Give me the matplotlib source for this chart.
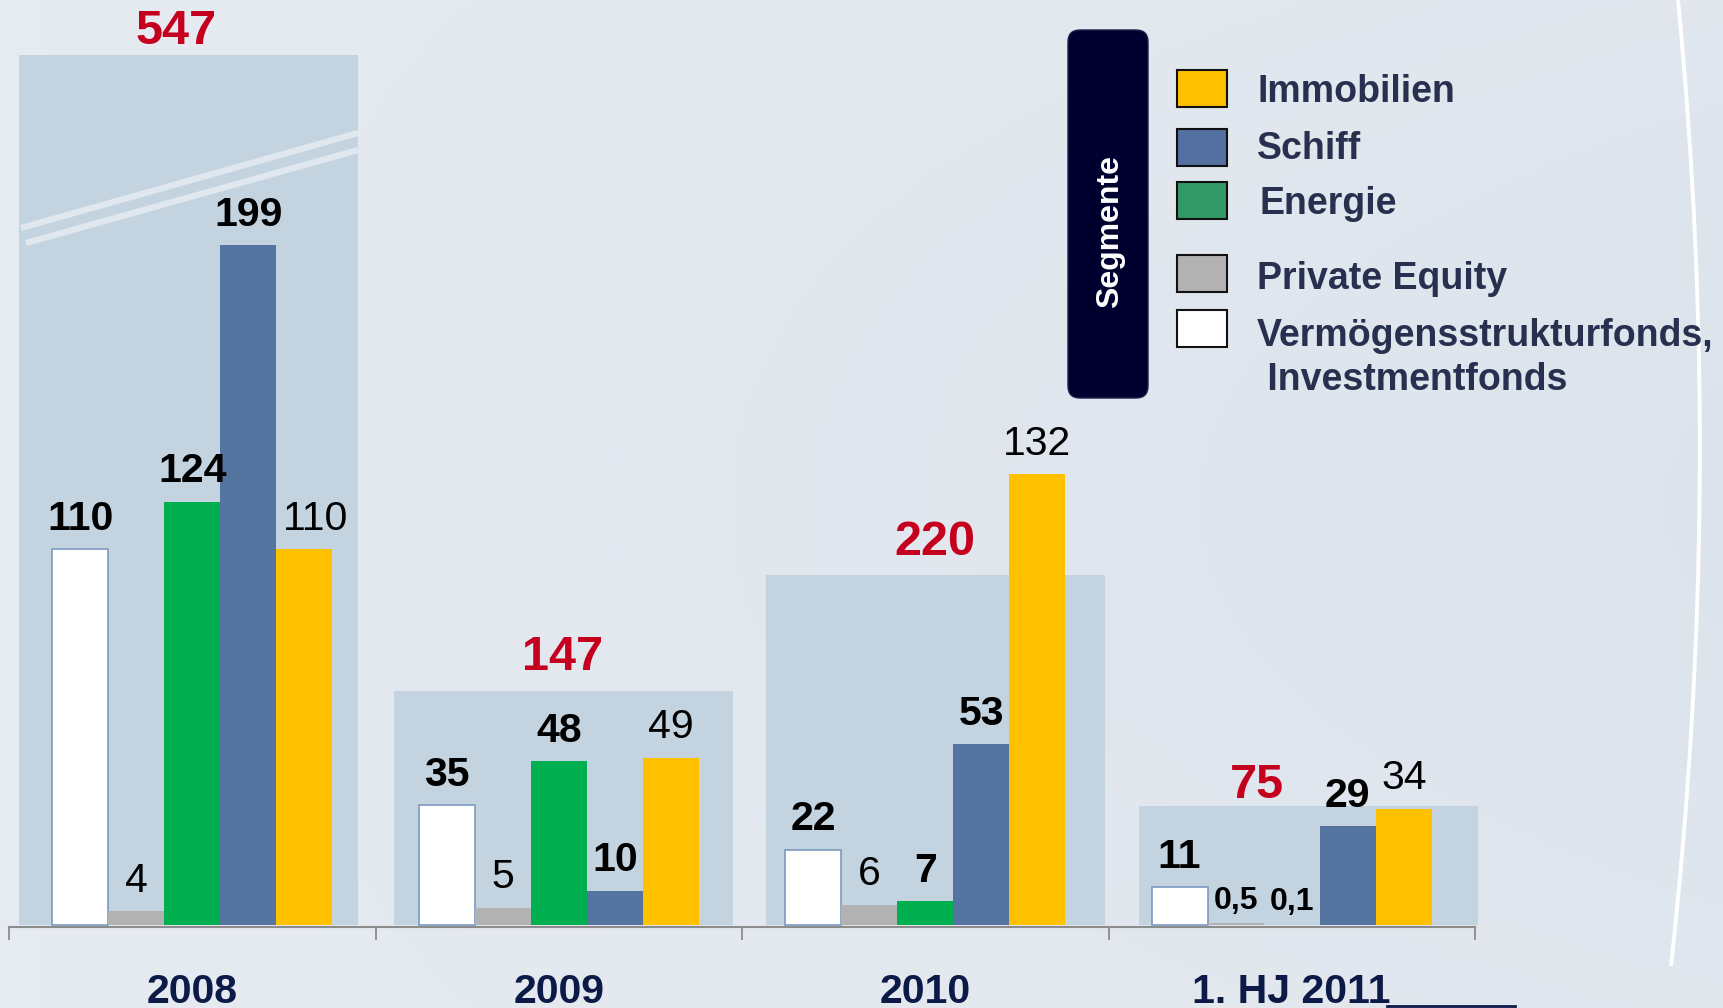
import numpy as np
import matplotlib.pyplot as plt
from matplotlib.patches import Rectangle, FancyBboxPatch, PathPatch
from matplotlib.path import Path

plt.rcParams['font.family'] = ['Liberation Sans', 'DejaVu Sans']

# Daten (Platzierungsvolumen je Segment)
jahre = ['2008', '2009', '2010', '1. HJ 2011']
summe = [547, 147, 220, 75]
summe_text = ['547', '147', '220', '75']

vsf = [110, 35, 22, 11]          # Vermögensstrukturfonds, Investmentfonds
pe = [4, 5, 6, 0.5]              # Private Equity
energie = [124, 48, 7, 0.1]
schiff = [199, 10, 53, 29]
immo = [110, 49, 132, 34]

vsf_text = ['110', '35', '22', '11']
pe_text = ['4', '5', '6', '0,5']
energie_text = ['124', '48', '7', '0,1']
schiff_text = ['199', '10', '53', '29']
immo_text = ['110', '49', '132', '34']

legende_namen = ['Immobilien', 'Schiff', 'Energie', 'Private Equity',
                 'Vermögensstrukturfonds,\n Investmentfonds']

# Farben
c_bg_box = '#c3d3df'
c_rot = '#c5001f'
c_navy = '#0c1a48'
c_leg = '#283050'

W, H = 1723, 1008
fig = plt.figure(figsize=(W / 100, H / 100), dpi=100)

# Hintergrund mit leichtem Verlauf
bg = fig.add_axes([0, 0, 1, 1], zorder=0)
yy, xx = np.mgrid[0:1:200j, 0:1:340j]
hell = np.array([0.902, 0.922, 0.945])
dunkel = np.array([0.860, 0.886, 0.918])
mix = np.clip(0.45 * xx + 0.35 * np.sin(np.pi * yy) * xx, 0, 1)[..., None]
bg.imshow(hell * (1 - mix) + dunkel * mix, aspect='auto', extent=[0, 1, 0, 1])
bg.axis('off')

# Hauptachse: 1 Einheit x = 366.5 px, 1 Einheit y = 3.415 px
ax = fig.add_axes([0, 0, 1, 1], zorder=1)
ax.patch.set_alpha(0)
sx, sy = 366.5, 3.415
ax.set_xlim(-0.5 - 9 / sx, -0.5 + (W - 9) / sx)
ax.set_ylim(-(H - 925) / sy, 925 / sy)

x = np.arange(len(jahre))
bw = 0.153

# Hintergrundkästen (Gesamtvolumen, gestaucht)
box_dx = np.array([-0.011, 0.012, 0.027, 0.046])
ax.bar(x + box_dx, np.array(summe) * 0.466, width=0.925, color=c_bg_box, zorder=1)

serien = [
    (vsf, vsf_text, 'white', '#7d99bf', 1.2, ['bold'] * 4),
    (pe, pe_text, '#b2b2b2', 'none', 0, ['normal', 'normal', 'normal', 'bold']),
    (energie, energie_text, '#00b050', 'none', 0, ['bold'] * 4),
    (schiff, schiff_text, '#5574a0', 'none', 0, ['bold'] * 4),
    (immo, immo_text, '#ffc000', 'none', 0, ['normal'] * 4),
]

for k, (werte, texte, farbe, rand, lw, gewicht) in enumerate(serien):
    pos = x + (k - 2) * bw
    ax.bar(pos, werte, width=bw, color=farbe, edgecolor=rand, linewidth=lw, zorder=3)
    for i in range(len(werte)):
        klein = texte[i] in ('0,5', '0,1')
        dx = 8 if (k == 4 and i == 0) else 0
        ax.annotate(texte[i], (pos[i], werte[i]), xytext=(dx, 10.5 if klein else 14),
                    textcoords='offset points', ha='center', va='baseline',
                    fontsize=23 if klein else 29.5, fontweight=gewicht[i], color='black',
                    zorder=5)

# Summen in Rot
summe_dx = [-11.5, 2.5, 7, -25]
summe_dy = [16.5, 24.5, 23.5, 14.5]
for i in range(len(summe)):
    ax.annotate(summe_text[i], (x[i], summe[i] * 0.466), xytext=(summe_dx[i], summe_dy[i]),
                textcoords='offset points', ha='center', va='center',
                fontsize=35, fontweight='bold', color=c_rot, zorder=5)

# Achse
for s in ['top', 'left', 'right']:
    ax.spines[s].set_visible(False)
ax.spines['bottom'].set_position(('data', -0.6))
ax.spines['bottom'].set_bounds(-0.5, 3.5)
ax.spines['bottom'].set_color('#8c8c8c')
ax.spines['bottom'].set_linewidth(1.5)
ax.set_xticks(np.arange(-0.5, 4, 1))
ax.set_xticklabels([])
ax.tick_params(axis='x', which='major', length=9.5, width=1.3, color='#8c8c8c', direction='out')
ax.set_xticks(x, minor=True)
ax.set_xticklabels(jahre, minor=True, fontsize=29.5, fontweight='bold', color=c_navy)
ax.tick_params(axis='x', which='minor', length=0, pad=33)
ax.set_yticks([])

# Deko und Legende in Pixelkoordinaten
deko = fig.add_axes([0, 0, 1, 1], zorder=2)
deko.set_xlim(0, W)
deko.set_ylim(H, 0)
deko.axis('off')
deko.patch.set_alpha(0)

# Bruchlinien im Kasten 2008
deko.plot([21, 358], [228, 133], color='#e0e7ef', lw=4.5, solid_capstyle='butt')
deko.plot([26, 358], [243, 150], color='#e0e7ef', lw=4.5, solid_capstyle='butt')

# weißer Bogen rechts
bogen = Path([(1678, 0), (1725, 480), (1671, 966)], [Path.MOVETO, Path.CURVE3, Path.CURVE3])
deko.add_patch(PathPatch(bogen, facecolor='none', edgecolor='white', lw=2.8))

# dunkle Linie unten rechts
deko.plot([1387, 1515], [1006, 1006], color=c_navy, lw=2)

# Legende
deko.add_patch(FancyBboxPatch((1068, 30), 80, 368, boxstyle='round,pad=0,rounding_size=12',
                              facecolor='#00002e', edgecolor='#1a1f4a', lw=1))
deko.text(1110, 232, 'Segmente', rotation=90, ha='center', va='center',
          fontsize=23, fontweight='bold', color='white')

leg_farben = ['#ffc000', '#5470a0', '#339966', '#b2b2b2', '#ffffff']
leg_y = [88, 147, 200, 273, 328]
text_y = [92, 149, 204, 279, 358]
text_x = [1257, 1257, 1260, 1257, 1257]
for i in range(len(legende_namen)):
    deko.add_patch(Rectangle((1177, leg_y[i] - 18), 50, 37, facecolor=leg_farben[i],
                             edgecolor='#111111', lw=1.5))
    deko.text(text_x[i], text_y[i], legende_namen[i], ha='left', va='center',
              fontsize=27, fontweight='bold', color=c_leg, linespacing=1.27)

fig.savefig('out.png', dpi=100)
